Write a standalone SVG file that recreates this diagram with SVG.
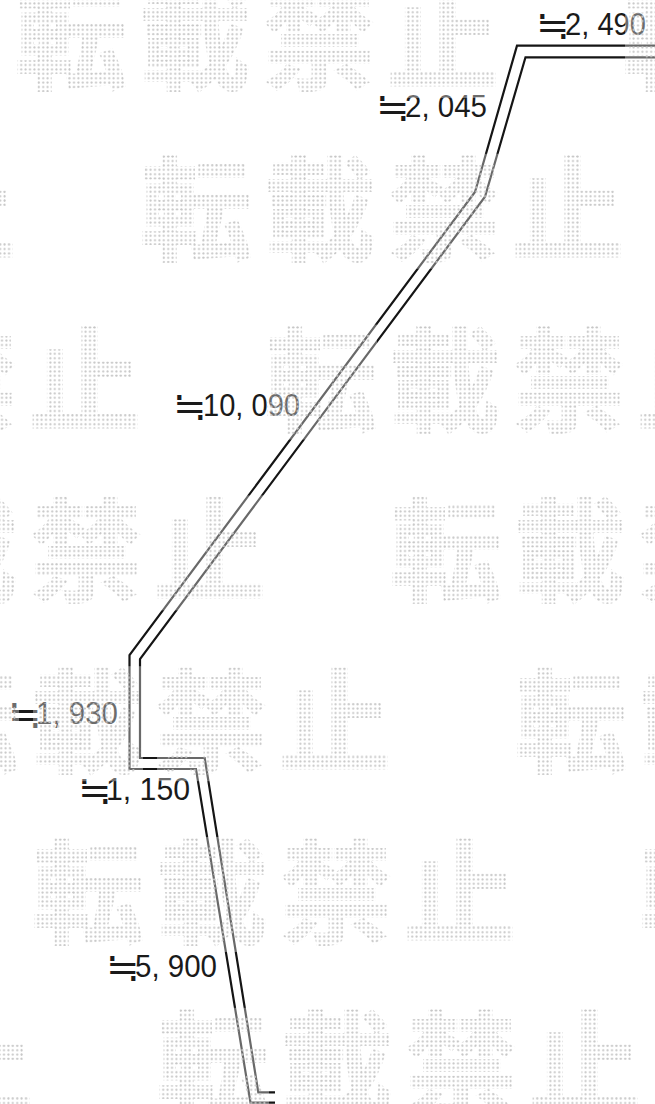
<svg xmlns="http://www.w3.org/2000/svg" xmlns:xlink="http://www.w3.org/1999/xlink" width="655" height="1104" viewBox="0 0 655 1104">
<style>
.ln{fill:none;stroke:#151515;stroke-width:2.2;stroke-linejoin:miter}
.lbl{font-family:"Liberation Sans","Noto Sans CJK JP",sans-serif;font-size:31px;fill:#1a1a1a}
.ap{font-family:"Noto Sans CJK JP",sans-serif;font-size:40px;font-weight:300;letter-spacing:-14px}
.cell{fill:#ffffff;fill-opacity:0.36}
.wm{font-family:"Noto Sans CJK JP","Noto Sans CJK SC",sans-serif;font-weight:700;font-size:112px;fill:url(#dots);stroke:url(#dots);stroke-width:2}
</style>
<defs>
<pattern id="dots" patternUnits="userSpaceOnUse" width="4.4" height="4.4">
<circle cx="2.2" cy="2.2" r="1.05" fill="#c6c6c6"/>
</pattern>
<g id="wmUnit">
<rect class="cell" x="-2" y="-5" width="110" height="115"/>
<rect class="cell" x="122" y="-5" width="110" height="115"/>
<rect class="cell" x="246" y="-5" width="110" height="115"/>
<rect class="cell" x="370" y="-5" width="110" height="115"/>
<text class="wm" x="-4 120 244 368" y="93">転載禁止</text>
</g>
</defs>
<rect width="655" height="1104" fill="#ffffff"/>
<g id="connectors">
<polyline class="ln" points="655,45.7 517,45.7 475,192 129.5,655 129.5,769 196,769 250.5,1102.7 275,1102.7"/>
<polyline class="ln" points="655,57.3 525.5,57.3 485,196.7 140,659 140,758 204.7,758 258.3,1092.3 275,1092.3"/>
</g>
<g id="labels">
<text class="lbl"><tspan class="ap" x="535.5" y="39">≒</tspan><tspan x="565" y="35" textLength="81" lengthAdjust="spacingAndGlyphs">2, 490</tspan></text>
<text class="lbl"><tspan class="ap" x="375.5" y="121">≒</tspan><tspan x="405" y="117" textLength="82" lengthAdjust="spacingAndGlyphs">2, 045</tspan></text>
<text class="lbl"><tspan class="ap" x="172.5" y="419.5">≒</tspan><tspan x="203" y="415.5" textLength="97" lengthAdjust="spacingAndGlyphs">10, 090</tspan></text>
<text class="lbl"><tspan class="ap" x="7.5" y="727.5">≒</tspan><tspan x="36" y="723.5" textLength="82" lengthAdjust="spacingAndGlyphs">1, 930</tspan></text>
<text class="lbl"><tspan class="ap" x="77.5" y="804">≒</tspan><tspan x="106" y="800" textLength="84" lengthAdjust="spacingAndGlyphs">1, 150</tspan></text>
<text class="lbl"><tspan class="ap" x="105.5" y="980.5">≒</tspan><tspan x="135" y="976.5" textLength="82" lengthAdjust="spacingAndGlyphs">5, 900</tspan></text>
</g>
<g id="watermark">
<use xlink:href="#wmUnit" x="19" y="-12"/>
<use xlink:href="#wmUnit" x="627" y="-12"/>
<use xlink:href="#wmUnit" x="-464" y="158.8"/>
<use xlink:href="#wmUnit" x="144" y="158.8"/>
<use xlink:href="#wmUnit" x="-339" y="329.6"/>
<use xlink:href="#wmUnit" x="269" y="329.6"/>
<use xlink:href="#wmUnit" x="-214" y="500.4"/>
<use xlink:href="#wmUnit" x="394" y="500.4"/>
<use xlink:href="#wmUnit" x="-89" y="671.2"/>
<use xlink:href="#wmUnit" x="519" y="671.2"/>
<use xlink:href="#wmUnit" x="36" y="842"/>
<use xlink:href="#wmUnit" x="644" y="842"/>
<use xlink:href="#wmUnit" x="-447" y="1012.8"/>
<use xlink:href="#wmUnit" x="161" y="1012.8"/>
</g>
</svg>
